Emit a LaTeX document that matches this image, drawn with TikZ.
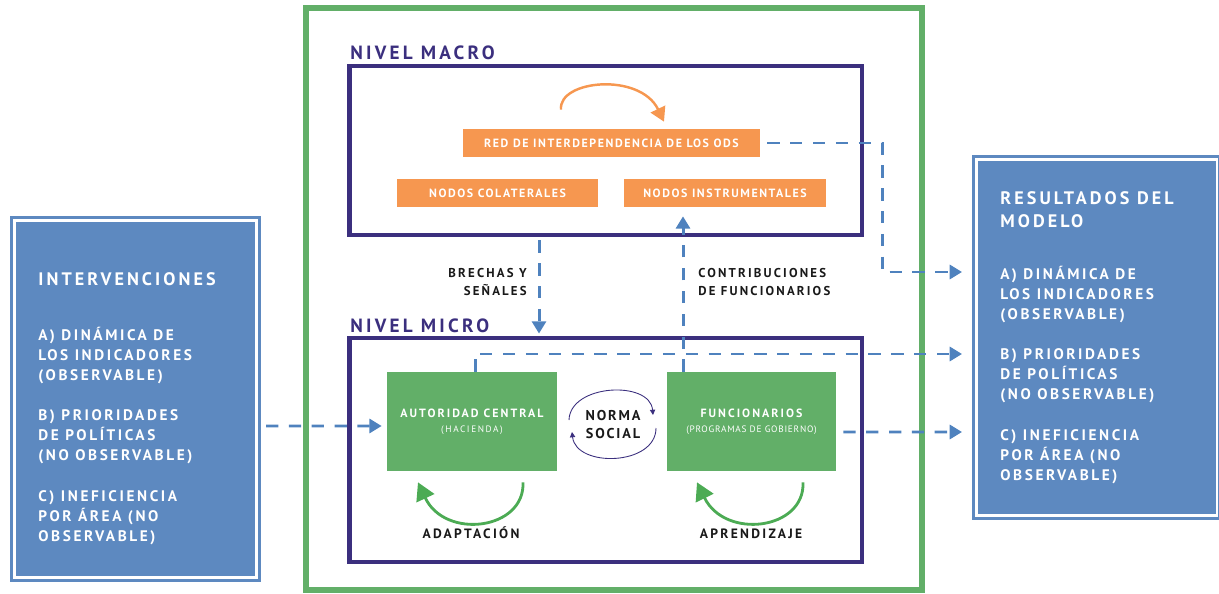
\documentclass[tikz,border=0pt]{standalone}
\usepackage{fontspec}
\usetikzlibrary{arrows.meta}

\newfontfamily\dgfont[LetterSpace=17]{PT Sans}
\newfontfamily\dgfontmid[LetterSpace=13]{PT Sans}
\newfontfamily\dgfontplain[LetterSpace=8]{PT Sans}
\newcommand\subtextfont{\dgfont\mdseries\fontsize{5.3}{6}\selectfont}
\newcommand\progtextfont{\dgfontplain\mdseries\fontsize{5.3}{6}\selectfont}
\definecolor{navy}{RGB}{59,47,126}
\definecolor{sdgorange}{RGB}{246,151,80}
\definecolor{nodegreen}{RGB}{98,175,104}
\definecolor{loopgreen}{RGB}{76,171,84}
\definecolor{boxblue}{RGB}{93,137,192}
\definecolor{linkblue}{RGB}{79,130,190}

\begin{document}
\begin{tikzpicture}[x=0.02cm, y=-0.02cm,
  levelframe/.style={draw=navy, line width=2.8pt, inner sep=0pt},
  orangebox/.style={fill=sdgorange, text=white, inner sep=0pt, minimum height=0.56cm,
    font=\dgfontmid\bfseries\fontsize{6.8}{8}\selectfont},
  greenbox/.style={fill=nodegreen, text=white, align=center, inner sep=0pt,
    minimum width=3.4cm, minimum height=1.98cm,
    font=\dgfont\bfseries\fontsize{6.8}{8.5}\selectfont},
  bluebox/.style={fill=boxblue, draw=boxblue, double=white, double distance=1.6pt,
    line width=1.7pt, inner sep=0pt},
  boxtitle/.style={text=white, align=left, inner sep=0pt, anchor=base west,
    font=\dgfont\bfseries\fontsize{10.3}{13}\selectfont},
  boxtext/.style={text=white, align=left, inner sep=0pt, anchor=base west,
    font=\dgfont\bfseries\fontsize{8.7}{11.45}\selectfont},
  leveltext/.style={text=navy, inner sep=0pt, anchor=base west,
    font=\dgfont\bfseries\fontsize{10.9}{13}\selectfont},
  linktext/.style={text=black!90, inner sep=0pt, anchor=base,
    font=\dgfont\bfseries\fontsize{7.3}{10.2}\selectfont},
  dasharrow/.style={draw=linkblue, line width=1.7pt, dash pattern=on 7pt off 6pt,
    -{Triangle[length=7pt,width=8pt]}},
  greenloop/.style={draw=loopgreen, line width=1.6pt, -{Triangle[length=10pt,width=11pt]}},
  normaloop/.style={draw=navy, line width=0.5pt, -{Triangle[length=3pt,width=3pt]}},
]
\useasboundingbox (0,0) rectangle (1219,594);

% outer frame and the two levels
\node[draw=nodegreen, line width=3.4pt, inner sep=0pt, minimum width=12.32cm,
  minimum height=11.64cm] (model) at (614,299) {};
\node[levelframe, minimum width=10.26cm, minimum height=3.38cm] (macro) at (605.5,150.5) {};
\node[levelframe, minimum width=10.26cm, minimum height=4.48cm] (micro) at (605.5,450) {};
\node[leveltext] (macrolabel) at (350,60) {NIVEL MACRO};
\node[leveltext] (microlabel) at (350,332) {NIVEL MICRO};

% side boxes
\node[bluebox, minimum width=4.84cm, minimum height=7.14cm] (interv) at (135.5,399) {};
\node[bluebox, minimum width=4.81cm, minimum height=7.12cm] (result) at (1096.75,337.5) {};

\node[boxtitle] (intervtitle) at (38,285.4) {INTERVENCIONES};
\node[boxtext] (intervitems) at (38,541.4) {A) DINÁMICA DE\\LOS INDICADORES\\(OBSERVABLE)\\[11.45pt]
  B) PRIORIDADES\\DE POLÍTICAS\\(NO OBSERVABLE)\\[11.45pt]
  C) INEFICIENCIA\\POR ÁREA (NO\\OBSERVABLE)};

\node[boxtitle] (resulttitle) at (1000,227.4) {RESULTADOS DEL\\MODELO};
\node[boxtext] (resultitems) at (1000,480.4) {A) DINÁMICA DE\\LOS INDICADORES\\(OBSERVABLE)\\[11.45pt]
  B) PRIORIDADES\\DE POLÍTICAS\\(NO OBSERVABLE)\\[11.45pt]
  C) INEFICIENCIA\\POR ÁREA (NO\\OBSERVABLE)};

% macro level
\node[orangebox, minimum width=5.94cm] (red) at (611.5,143) {RED DE INTERDEPENDENCIA DE LOS ODS};
\node[orangebox, minimum width=4.02cm] (colat) at (497.5,193) {NODOS COLATERALES};
\node[orangebox, minimum width=4.04cm] (instr) at (725,193) {NODOS INSTRUMENTALES};
\draw[draw=sdgorange, line width=1.4pt, -{Triangle[length=8pt,width=9pt]}]
  ([shift={(-50.5,-19)}]red.north) .. controls (558,80) and (640,72) .. ([shift={(52.5,-7)}]red.north);

% micro level
\node[greenbox] (auth) at (472,421.5) {AUTORIDAD CENTRAL\\{\subtextfont(HACIENDA)}};
\node[greenbox, minimum width=3.38cm] (funcs) at (751.5,421.5) {FUNCIONARIOS\\{\progtextfont(PROGRAMAS DE GOBIERNO)}};
\node[linktext, align=center, font=\dgfontmid\bfseries\fontsize{8.1}{10.2}\selectfont] (norma) at (613,438) {NORMA\\SOCIAL};
\draw[normaloop] (569,420) .. controls (570,384) and (650,380) .. (653,415);
\draw[normaloop] (656,428) .. controls (656,466) and (576,468) .. (572,432);

\draw[greenloop] ([shift={(51,11)}]auth.south) .. controls (525,530) and (445,540) .. ([shift={(-54,11)}]auth.south);
\draw[greenloop] ([shift={(51.5,11)}]funcs.south) .. controls (805,530) and (725,540) .. ([shift={(-54.5,11)}]funcs.south);
\node[linktext, font=\dgfont\bfseries\fontsize{7.7}{10}\selectfont] (adapt) at (471,538) {ADAPTACIÓN};
\node[linktext, font=\dgfont\bfseries\fontsize{7.7}{10}\selectfont] (aprend) at (751,538) {APRENDIZAJE};

% links between levels
\node[linktext, align=right, anchor=base east] (brechas) at (527,295.5) {BRECHAS Y\\SEÑALES};
\node[linktext, align=left, anchor=base west] (contrib) at (698,295.5) {CONTRIBUCIONES\\DE FUNCIONARIOS};
\draw[dasharrow] ([shift={(-66.5,3)}]macro.south) -- ([shift={(-66.5,-2)}]micro.north);
\draw[dasharrow] ([shift={(-68.5,0)}]funcs.north) -- ([shift={(-42,9)}]instr.south);

% links to the side boxes
\coordinate (resA) at (962,272);
\coordinate (resB) at (962,354);
\coordinate (resC) at (962,432);
\coordinate (bend) at (882,143);
\coordinate (intervout) at (266,426);
\draw[dasharrow] ([shift={(7,0)}]red.east) -- (bend) |- (resA);
\draw[dasharrow] ([shift={(3,0)}]auth.north) |- (resB);
\draw[dasharrow] ([shift={(7,10.5)}]funcs.east) -- (resC);
\draw[dasharrow] (intervout) -- ([shift={(-5,4.5)}]auth.west);

\end{tikzpicture}
\end{document}
